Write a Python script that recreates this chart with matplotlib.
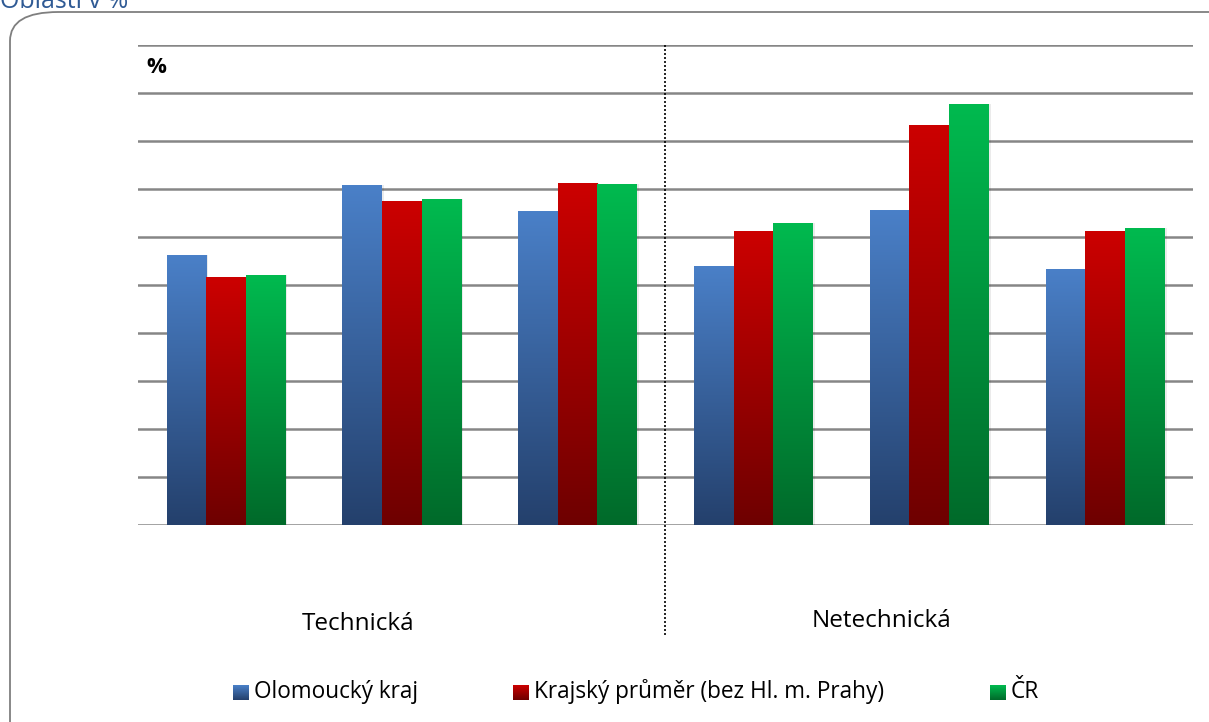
import numpy as np
import matplotlib
matplotlib.use("Agg")
import matplotlib.pyplot as plt
from matplotlib.patches import FancyBboxPatch
from matplotlib.colors import LinearSegmentedColormap
import matplotlib.transforms as mtransforms

plt.rcParams['font.family'] = ['Open Sans', 'DejaVu Sans']

# Data (share in %)
groups = ["Technická", "Netechnická"]
series_names = ["Olomoucký kraj", "Krajský průměr (bez Hl. m. Prahy)", "ČR"]
olomoucky = [28.1, 35.4, 32.7, 27.0, 32.8, 26.7]
krajsky = [25.8, 33.7, 35.6, 30.6, 41.7, 30.6]
cr = [26.0, 34.0, 35.5, 31.5, 43.9, 30.9]

values = [olomoucky, krajsky, cr]
grad_colors = [("#4A80C8", "#24406C"), ("#CC0000", "#6E0000"), ("#00BA4F", "#006A2A")]

W, H = 1209, 722
fig = plt.figure(figsize=(W / 100, H / 100), dpi=100)

# rounded frame around the chart
frame = FancyBboxPatch((10 / W, -0.05), 1.05, 1 - 12 / H + 0.05,
                       boxstyle="round,pad=0,rounding_size=0.04",
                       transform=fig.transFigure, facecolor="none",
                       edgecolor="#7F7F7F", linewidth=1.3, zorder=-1)
fig.patches.append(frame)

fig.text(0.0, 1 - 8 / H, "Oblasti v %", color="#2F5A94", fontsize=18,
         ha="left", va="baseline")

ax = fig.add_axes([138 / W, 1 - 525 / H, (1193 - 138) / W, 480 / H])
ax.set_facecolor("none")

n = len(olomoucky)
x = np.arange(n)
width = 0.225
offsets = [-width, 0, width]

for vals, off, (ctop, cbot) in zip(values, offsets, grad_colors):
    bars = ax.bar(x + off, vals, width=width, color="none", zorder=3)
    cmap = LinearSegmentedColormap.from_list("g", [cbot, ctop])
    grad = np.linspace(0, 1, 256).reshape(-1, 1)
    for patch in bars.patches:
        bx, by = patch.get_x(), patch.get_y()
        bw, bh = patch.get_width(), patch.get_height()
        # soft shadow on the right side
        ax.bar(bx + bw / 2 + 0.012, bh, width=bw, bottom=by, color="#000000",
               alpha=0.08, zorder=2, linewidth=0)
        im = ax.imshow(grad, extent=[bx, bx + bw, by, by + bh], origin="lower",
                       aspect="auto", cmap=cmap, zorder=3)
        im.set_clip_path(patch)

ax.set_xlim(-0.5, n - 0.5)
ax.set_ylim(0, 50)
ax.set_yticks(np.arange(0, 51, 5))
ax.yaxis.grid(True, color="#868686", linewidth=1.8, zorder=1)
ax.set_axisbelow(True)
ax.tick_params(left=False, bottom=False, labelleft=False, labelbottom=False)
for s in ax.spines.values():
    s.set_visible(False)

ax.text(0.008, 0.953, "%", transform=ax.transAxes, fontsize=16,
        fontweight="bold", ha="left", va="center")

# dotted separator between the two groups
trans = mtransforms.blended_transform_factory(ax.transData, ax.transAxes)
ax.plot([2.5, 2.5], [1.0, -0.229], transform=trans, color="black",
        linestyle=(0, (1.2, 1.2)), linewidth=1.2, clip_on=False, zorder=4)

# group labels
fig.text(358 / W, 1 - 624 / H, groups[0], fontsize=17.5, ha="center", va="center")
fig.text(882 / W, 1 - 621 / H, groups[1], fontsize=17.5, ha="center", va="center")

# legend
leg_y = 1 - 692 / H
leg_x = [233, 513, 990]
for lx, name, (ctop, cbot) in zip(leg_x, series_names, grad_colors):
    lax = fig.add_axes([lx / W, 1 - 700 / H, 16 / W, 15 / H])
    cmap = LinearSegmentedColormap.from_list("g", [cbot, ctop])
    lax.imshow(np.linspace(0, 1, 64).reshape(-1, 1), origin="lower",
               aspect="auto", cmap=cmap)
    lax.axis("off")
    fig.text((lx + 21) / W, leg_y, name, fontsize=16.3, ha="left", va="center")

fig.savefig("out.png", dpi=100)
